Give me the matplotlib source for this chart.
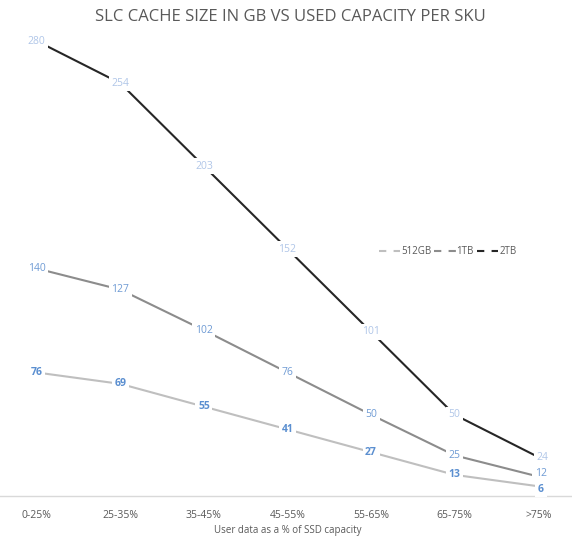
import matplotlib
matplotlib.use('Agg')
import matplotlib.pyplot as plt
from matplotlib.lines import Line2D

categories = ['0-25%', '25-35%', '35-45%', '45-55%', '55-65%', '65-75%', '>75%']
gb512 = [76, 69, 55, 41, 27, 13, 6]
tb1 = [140, 127, 102, 76, 50, 25, 12]
tb2 = [280, 254, 203, 152, 101, 50, 24]
series_names = ['512GB', '1TB', '2TB']

line_colors = ['#bfbfbf', '#8c8c8c', '#262626']
label_colors = ['#5b8fd0', '#6f9bd4', '#b0c6e8']
label_weights = ['bold', 'normal', 'normal']
# the last column is crowded: nudge those labels apart (points)
last_offsets = [(2, -2), (2, 2.5), (3, 0)]

plt.rcParams['font.family'] = ['Open Sans', 'DejaVu Sans']

fig = plt.figure(figsize=(5.72, 5.41), dpi=100)
# plot area runs slightly past the figure edges, like the cropped original
ax = fig.add_axes([-5 / 572, 45 / 541, 585 / 572, 487.5 / 541])

x = list(range(len(categories)))
all_series = [gb512, tb1, tb2]
for vals, lc in zip(all_series, line_colors):
    ax.plot(x, vals, color=lc, linewidth=1.5, solid_capstyle='butt', zorder=2)

for i in [2, 1, 0]:
    for xi, v in zip(x, all_series[i]):
        off = last_offsets[i] if xi == x[-1] else (0, 0)
        ax.annotate(str(v), (xi, v), xytext=off, textcoords='offset points',
                    color=label_colors[i], fontsize=7.5, fontweight=label_weights[i],
                    ha='center', va='center', zorder=3 + (2 - i),
                    bbox=dict(boxstyle='square,pad=0.25', fc='white', ec='none'))

ax.set_xlim(-0.5, len(categories) - 0.5)
ax.set_ylim(0, 300)
ax.set_yticks([])
ax.set_xticks(x)
ax.set_xticklabels(categories, fontsize=7.5, color='#595959')
ax.tick_params(axis='x', length=0, pad=10)
for s in ['top', 'right', 'left']:
    ax.spines[s].set_visible(False)
ax.spines['bottom'].set_color('#d9d9d9')
ax.spines['bottom'].set_linewidth(1.0)

ax.set_xlabel('User data as a % of SSD capacity', fontsize=7, color='#595959', labelpad=3)

handles = [Line2D([0], [0], color=c, linewidth=1.5, dashes=(3.5, 3.5)) for c in line_colors]
leg = ax.legend(handles, series_names, loc='center left', bbox_to_anchor=(375 / 585, 1 - (252 - 8.5) / 487.5),
                ncol=3, frameon=False, fontsize=7, handlelength=2.2, handletextpad=0.1,
                columnspacing=0.3, labelcolor='#595959')

fig.text(0.507, 0.968, 'SLC CACHE SIZE IN GB VS USED CAPACITY PER SKU', ha='center', va='center',
         fontsize=12, color='#595959')

fig.savefig('out.png', dpi=100)
